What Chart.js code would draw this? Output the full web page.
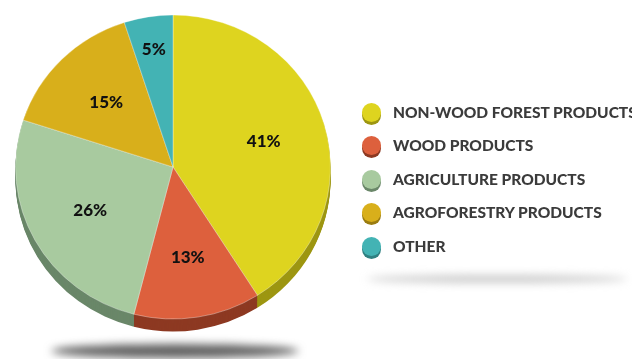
<!DOCTYPE html>
<html>
<head>
    <title>Product Share Pie</title>
    <script src="https://cdn.jsdelivr.net/npm/chart.js"></script>
    <style>
        body { margin: 0; background: #fff; width: 632px; height: 359px; overflow: hidden; position: relative; font-family: Lato, Arial, sans-serif; }
        #pieChart { position: absolute; left: 0; top: 0; }
        .legend { position: absolute; left: 362px; top: 103px; }
        .legend-item { height: 33.4px; display: flex; align-items: flex-start; white-space: nowrap; }
        .dot { width: 19px; height: 19px; border-radius: 50%; margin-right: 12px; }
        .legend-label { font-weight: 900; font-size: 15.5px; color: #3b3b3b; line-height: 19px; }
    </style>
</head>
<body>
    <canvas id="pieChart" width="632" height="359"></canvas>
    <div class="legend" id="legend"></div>

    <script>
        const categories = ['NON-WOOD FOREST PRODUCTS', 'WOOD PRODUCTS', 'AGRICULTURE PRODUCTS', 'AGROFORESTRY PRODUCTS', 'OTHER'];
        const shares = [41, 13, 26, 15, 5];
        const faceColors = ['#DED41F', '#DD603D', '#A8CA9F', '#D8AF1B', '#43B3B4'];
        const sideColors = ['#9D9611', '#8D3922', '#6A8769', '#9A7C10', '#2F8081'];

        const SQUASH = 0.965;  // pie is a touch flatter than a circle
        const DEPTH = 13;

        // legend
        const legend = document.getElementById('legend');
        categories.forEach((name, i) => {
            legend.innerHTML += `<div class="legend-item">
                <div class="dot" style="background:${faceColors[i]};box-shadow:0 3px 0 ${sideColors[i]}"></div>
                <span class="legend-label">${name}</span></div>`;
        });

        function shadow(ctx, x, y, rx, ry, color, blur) {
            ctx.save();
            ctx.filter = `blur(${blur}px)`;
            ctx.fillStyle = color;
            ctx.beginPath();
            ctx.ellipse(x, y, rx, ry, 0, 0, Math.PI * 2);
            ctx.fill();
            ctx.restore();
        }

        const pie3d = {
            id: 'pie3d',
            beforeDraw(chart) {
                const ctx = chart.ctx;
                const arc = chart.getDatasetMeta(0).data[0];
                shadow(ctx, arc.x + 2, 351, 124, 7, 'rgba(80,80,80,0.9)', 4);
                shadow(ctx, 497, 279, 130, 4, 'rgba(190,190,190,0.8)', 4);
            },
            beforeDatasetsDraw(chart) {
                const ctx = chart.ctx;
                const arcs = chart.getDatasetMeta(0).data;
                const cx = arcs[0].x, cy = arcs[0].y;
                ctx.save();
                ctx.translate(cx, cy);
                ctx.scale(1, SQUASH);
                ctx.translate(-cx, -cy);
                for (let d = DEPTH; d >= 1; d--) {
                    arcs.forEach((a, i) => {
                        ctx.fillStyle = sideColors[i];
                        ctx.beginPath();
                        ctx.moveTo(a.x, a.y + d);
                        ctx.arc(a.x, a.y + d, a.outerRadius, a.startAngle, a.endAngle);
                        ctx.closePath();
                        ctx.fill();
                    });
                }
            },
            afterDatasetsDraw(chart) {
                const ctx = chart.ctx;
                ctx.restore();
                const arcs = chart.getDatasetMeta(0).data;
                ctx.save();
                ctx.font = '900 17px Lato';
                ctx.fillStyle = '#111';
                ctx.textAlign = 'center';
                ctx.textBaseline = 'middle';
                arcs.forEach((a, i) => {
                    const span = a.endAngle - a.startAngle;
                    const mid = (a.startAngle + a.endAngle) / 2;
                    const f = span < 0.5 ? 0.78 : 0.6;
                    const x = a.x + Math.cos(mid) * a.outerRadius * f;
                    const y = a.y + Math.sin(mid) * a.outerRadius * f * SQUASH;
                    ctx.fillText(shares[i] + '%', x, y);
                });
                ctx.restore();
            }
        };

        new Chart(document.getElementById('pieChart').getContext('2d'), {
            type: 'pie',
            data: {
                labels: categories,
                datasets: [{
                    data: shares,
                    backgroundColor: faceColors,
                    borderColor: 'rgba(255,255,255,0.35)',
                    borderWidth: 1
                }]
            },
            options: {
                responsive: false,
                animation: false,
                layout: { padding: { left: 15, right: 301, top: 9, bottom: 34 } },
                plugins: {
                    legend: { display: false },
                    tooltip: { enabled: false }
                }
            },
            plugins: [pie3d]
        });
    </script>
</body>
</html>
